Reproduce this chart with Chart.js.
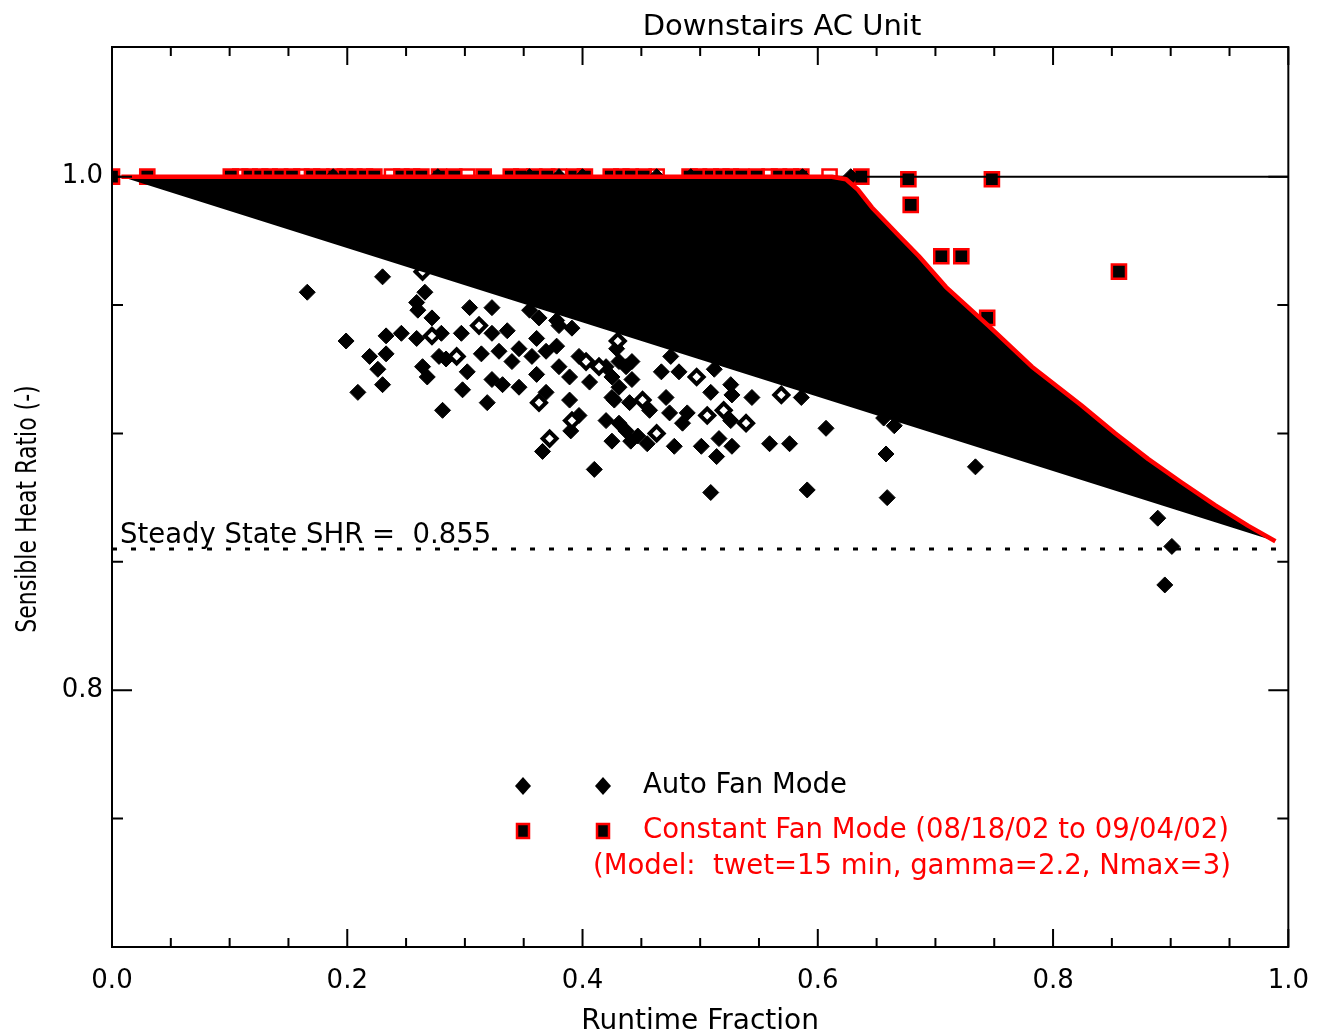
<!DOCTYPE html>
<html>
<head>
<meta charset="utf-8">
<title>Downstairs AC Unit</title>
<script src="https://cdn.jsdelivr.net/npm/chart.js@4.4.1/dist/chart.umd.min.js"></script>
<style>
  html, body { margin: 0; padding: 0; background: #fff; }
  #wrap { width: 1328px; height: 1033px; }
</style>
</head>
<body>
<div id="wrap"><canvas id="shr-chart" width="1328" height="1033"></canvas></div>
<script>
// text
var chartTitle = "Downstairs AC Unit";
var xTitle = "Runtime Fraction";
var yTitle = "Sensible Heat Ratio (-)";
var steadyLabel = "Steady State SHR =  0.855";
var autoLabel = "Auto Fan Mode";
var constLabel = "Constant Fan Mode (08/18/02 to 09/04/02)";
var modelLabel = "(Model:  twet=15 min, gamma=2.2, Nmax=3)";

// ticks
var xTicks = [0, 0.2, 0.4, 0.6, 0.8, 1.0];
var xMinorTicks = [0.05, 0.1, 0.15, 0.25, 0.3, 0.35, 0.45, 0.5, 0.55, 0.65, 0.7, 0.75, 0.85, 0.9, 0.95];
var yTicks = [0.8, 1.0];
var yMinorTicks = [0.75, 0.85, 0.9, 0.95];

// auto fan mode (filled diamonds)
var autoX = [0.166, 0.230, 0.199, 0.209, 0.219, 0.226, 0.230, 0.233, 0.233, 0.246,
  0.266, 0.259, 0.260, 0.272, 0.280, 0.259, 0.264, 0.268, 0.278, 0.284,
  0.281, 0.297, 0.304, 0.323, 0.314, 0.298, 0.302, 0.319, 0.323, 0.336,
  0.329, 0.323, 0.332, 0.346, 0.340, 0.355, 0.363, 0.378, 0.380, 0.391,
  0.361, 0.346, 0.357, 0.369, 0.378, 0.380, 0.361, 0.369, 0.389, 0.397,
  0.406, 0.425, 0.437, 0.425, 0.440, 0.389, 0.397, 0.390, 0.366, 0.410,
  0.420, 0.431, 0.437, 0.429, 0.420, 0.431, 0.442, 0.431, 0.427, 0.425,
  0.442, 0.457, 0.471, 0.475, 0.467, 0.482, 0.474, 0.489, 0.485, 0.478,
  0.455, 0.447, 0.441, 0.512, 0.509, 0.526, 0.527, 0.526, 0.516, 0.501,
  0.527, 0.514, 0.544, 0.586, 0.559, 0.576, 0.607, 0.658, 0.665, 0.656,
  0.734, 0.509, 0.591, 0.659, 0.889, 0.901, 0.895,
  0.188, 0.277, 0.355, 0.380, 0.400, 0.463, 0.492, 0.587, 0.628];
var autoY = [0.955, 0.961, 0.936, 0.916, 0.930, 0.925, 0.919, 0.931, 0.938, 0.939,
  0.955, 0.951, 0.948, 0.945, 0.939, 0.937, 0.926, 0.922, 0.930, 0.929,
  0.909, 0.939, 0.949, 0.949, 0.931, 0.917, 0.924, 0.912, 0.939, 0.940,
  0.932, 0.921, 0.919, 0.918, 0.928, 0.948, 0.945, 0.944, 0.942, 0.941,
  0.937, 0.933, 0.930, 0.932, 0.934, 0.926, 0.923, 0.916, 0.922, 0.930,
  0.920, 0.922, 0.926, 0.914, 0.912, 0.913, 0.907, 0.901, 0.893, 0.886,
  0.905, 0.904, 0.901, 0.933, 0.926, 0.928, 0.928, 0.918, 0.913, 0.897,
  0.921, 0.909, 0.914, 0.930, 0.924, 0.924, 0.908, 0.908, 0.904, 0.895,
  0.896, 0.899, 0.897, 0.925, 0.916, 0.919, 0.915, 0.905, 0.898, 0.895,
  0.895, 0.891, 0.914, 0.914, 0.896, 0.896, 0.902, 0.892, 0.903, 0.906,
  0.887, 0.877, 0.878, 0.875, 0.867, 0.856, 0.841,
  1.0, 1.0, 1.0, 1.0, 1.0, 1.0, 1.0, 1.0, 1.0];

// auto fan mode (open diamonds)
var autoOpenX = [0.264, 0.272, 0.293, 0.312, 0.363, 0.403, 0.414, 0.391, 0.372, 0.430, 0.451, 0.463, 0.497, 0.506, 0.520, 0.539, 0.569];
var autoOpenY = [0.963, 0.938, 0.930, 0.942, 0.912, 0.928, 0.926, 0.905, 0.898, 0.936, 0.913, 0.900, 0.922, 0.907, 0.909, 0.904, 0.915];

// constant fan mode (filled squares)
var constX = [0.000, 0.030, 0.101, 0.117, 0.126, 0.134, 0.143, 0.153, 0.170, 0.178,
  0.189, 0.198, 0.206, 0.215, 0.223, 0.246, 0.255, 0.263, 0.278, 0.291,
  0.316, 0.339, 0.348, 0.359, 0.370, 0.393, 0.402, 0.424, 0.433, 0.441,
  0.452, 0.491, 0.499, 0.509, 0.518, 0.526, 0.535, 0.548, 0.567, 0.577,
  0.586, 0.637, 0.677, 0.679, 0.748, 0.705, 0.722, 0.856, 0.744];
var constY = [1.0, 1.0, 1.0, 1.0, 1.0, 1.0, 1.0, 1.0, 1.0, 1.0,
  1.0, 1.0, 1.0, 1.0, 1.0, 1.0, 1.0, 1.0, 1.0, 1.0,
  1.0, 1.0, 1.0, 1.0, 1.0, 1.0, 1.0, 1.0, 1.0, 1.0,
  1.0, 1.0, 1.0, 1.0, 1.0, 1.0, 1.0, 1.0, 1.0, 1.0,
  1.0, 1.0, 0.999, 0.989, 0.999, 0.969, 0.969, 0.963, 0.945];

// constant fan mode (open squares)
var constOpenX = [0.109, 0.161, 0.238, 0.302, 0.380, 0.463, 0.559, 0.610];
var constOpenY = [1.0, 1.0, 1.0, 1.0, 1.0, 1.0, 1.0, 1.0];

// model curve (upper edge of the black band; band closes back along a straight line)
var modelX = [0.008, 0.612, 0.624, 0.634, 0.646, 0.669, 0.686, 0.709, 0.745, 0.782, 0.824, 0.853, 0.881, 0.909, 0.938, 0.966, 0.989];
var modelY = [1.0, 1.0, 0.999, 0.995, 0.988, 0.977, 0.969, 0.957, 0.942, 0.926, 0.911, 0.900, 0.890, 0.881, 0.872, 0.864, 0.858];

var unitySHR = 1.0;
var steadySHR = 0.855;

function pts(xs, ys) {
  return xs.map(function (x, i) { return { x: x, y: ys[i] }; });
}

var RED = "#ff0000";
var FONT = '"DejaVu Sans", "Liberation Sans", sans-serif';

var decor = {
  id: "decor",
  afterDraw: function (chart) {
    var ctx = chart.ctx, a = chart.chartArea;
    var xs = chart.scales.x, ys = chart.scales.y;
    ctx.save();
    ctx.strokeStyle = "#000";
    ctx.lineWidth = 2;
    ctx.strokeRect(a.left, a.top, a.right - a.left, a.bottom - a.top);

    // inward ticks on all four sides
    ctx.beginPath();
    function xTick(v, len) {
      var p = xs.getPixelForValue(v);
      ctx.moveTo(p, a.bottom); ctx.lineTo(p, a.bottom - len);
      ctx.moveTo(p, a.top); ctx.lineTo(p, a.top + len);
    }
    function yTick(v, len) {
      var p = ys.getPixelForValue(v);
      ctx.moveTo(a.left, p); ctx.lineTo(a.left + len, p);
      ctx.moveTo(a.right, p); ctx.lineTo(a.right - len, p);
    }
    xTicks.forEach(function (v) { xTick(v, 18); });
    xMinorTicks.forEach(function (v) { xTick(v, 9); });
    yTicks.forEach(function (v) { yTick(v, 20); });
    yMinorTicks.forEach(function (v) { yTick(v, 11); });
    ctx.stroke();

    // title
    ctx.fillStyle = "#000";
    ctx.font = "29px " + FONT;
    ctx.textAlign = "center";
    ctx.textBaseline = "alphabetic";
    ctx.fillText(chartTitle, 782, 35);

    // y axis title, a little wider than tall like the original
    ctx.save();
    ctx.translate(29, 509);
    ctx.scale(1.25, 1);
    ctx.rotate(-Math.PI / 2);
    ctx.textBaseline = "middle";
    ctx.font = "22px " + FONT;
    ctx.fillText(yTitle, 0, 0);
    ctx.restore();

    // steady state label
    ctx.textAlign = "left";
    ctx.font = "27.5px " + FONT;
    ctx.fillText(steadyLabel, a.left + 8, ys.getPixelForValue(steadySHR) - 6);

    // legend
    ctx.textBaseline = "middle";
    var rows = [786, 831, 867];
    [523, 603].forEach(function (mx) {
      var y = rows[0];
      ctx.beginPath();
      ctx.moveTo(mx, y - 9); ctx.lineTo(mx + 8, y); ctx.lineTo(mx, y + 9); ctx.lineTo(mx - 8, y);
      ctx.closePath();
      ctx.fillStyle = "#000";
      ctx.fill();
      y = rows[1];
      ctx.fillStyle = "#000";
      ctx.fillRect(mx - 6, y - 7, 12, 14);
      ctx.strokeStyle = RED;
      ctx.lineWidth = 2.5;
      ctx.strokeRect(mx - 6, y - 7, 12, 14);
    });
    ctx.font = "27.5px " + FONT;
    ctx.fillStyle = "#000";
    ctx.fillText(autoLabel, 643, rows[0]);
    ctx.fillStyle = RED;
    ctx.fillText(constLabel, 643, rows[1]);
    ctx.fillText(modelLabel, 593, rows[2]);
    ctx.restore();
  }
};

Chart.defaults.font.family = FONT;
Chart.defaults.color = "#000";

var ctx = document.getElementById("shr-chart").getContext("2d");
window.shrChart = new Chart(ctx, {
  type: "scatter",
  data: {
    datasets: [
      {
        type: "line",
        label: "Model",
        data: pts(modelX, modelY),
        borderColor: RED,
        borderWidth: 4.5,
        borderJoinStyle: "round",
        pointRadius: 0,
        fill: false
      },
      {
        type: "line",
        label: "Model band",
        data: pts(modelX, modelY),
        borderWidth: 0,
        borderColor: "rgba(0,0,0,0)",
        backgroundColor: "#000",
        pointRadius: 0,
        fill: "shape"
      },
      {
        type: "line",
        label: "SHR = 1",
        data: [{ x: 0, y: unitySHR }, { x: 1, y: unitySHR }],
        borderColor: "#000",
        borderWidth: 2,
        pointRadius: 0,
        fill: false
      },
      {
        type: "line",
        label: "Steady state",
        data: [{ x: 0, y: steadySHR }, { x: 1, y: steadySHR }],
        borderColor: "#000",
        borderWidth: 3,
        borderDash: [5, 14],
        pointRadius: 0,
        fill: false
      },
      {
        label: "Auto open",
        data: pts(autoOpenX, autoOpenY),
        pointStyle: "rectRot",
        pointRadius: 7,
        borderWidth: 4,
        borderColor: "#000",
        backgroundColor: "#fff"
      },
      {
        label: autoLabel,
        data: pts(autoX, autoY),
        pointStyle: "rectRot",
        pointRadius: 8,
        borderWidth: 1,
        borderColor: "#000",
        backgroundColor: "#000"
      },
      {
        label: constLabel,
        data: pts(constX, constY),
        pointStyle: "rect",
        pointRadius: 10,
        borderWidth: 2.5,
        borderColor: RED,
        backgroundColor: "#000"
      },
      {
        label: "Constant open",
        data: pts(constOpenX, constOpenY),
        pointStyle: "rect",
        pointRadius: 10,
        borderWidth: 2.5,
        borderColor: RED,
        backgroundColor: "#fff"
      }
    ]
  },
  options: {
    responsive: false,
    devicePixelRatio: 1,
    animation: false,
    layout: { padding: { top: 47, right: 38, bottom: 0, left: 0 } },
    plugins: {
      legend: { display: false },
      title: { display: false },
      tooltip: { enabled: false }
    },
    scales: {
      x: {
        type: "linear",
        min: 0,
        max: 1,
        grid: { display: false, drawTicks: false },
        border: { display: false },
        afterBuildTicks: function (scale) {
          scale.ticks = xTicks.map(function (v) { return { value: v }; });
        },
        afterFit: function (scale) { scale.height = 86; },
        ticks: {
          autoSkip: false,
          maxRotation: 0,
          padding: 19,
          font: { size: 26 },
          callback: function (v) { return Number(v).toFixed(1); }
        },
        title: {
          display: true,
          text: xTitle,
          font: { size: 28, lineHeight: 1 },
          padding: { top: 0, bottom: -3 }
        }
      },
      y: {
        type: "linear",
        min: 0.7,
        max: 1.0505,
        grid: { display: false, drawTicks: false },
        border: { display: false },
        afterBuildTicks: function (scale) {
          scale.ticks = yTicks.map(function (v) { return { value: v }; });
        },
        afterFit: function (scale) { scale.width = 112; },
        ticks: {
          padding: 9,
          font: { size: 26 },
          callback: function (v) { return Number(v).toFixed(1); }
        },
        title: { display: false }
      }
    }
  },
  plugins: [decor]
});
</script>
</body>
</html>
